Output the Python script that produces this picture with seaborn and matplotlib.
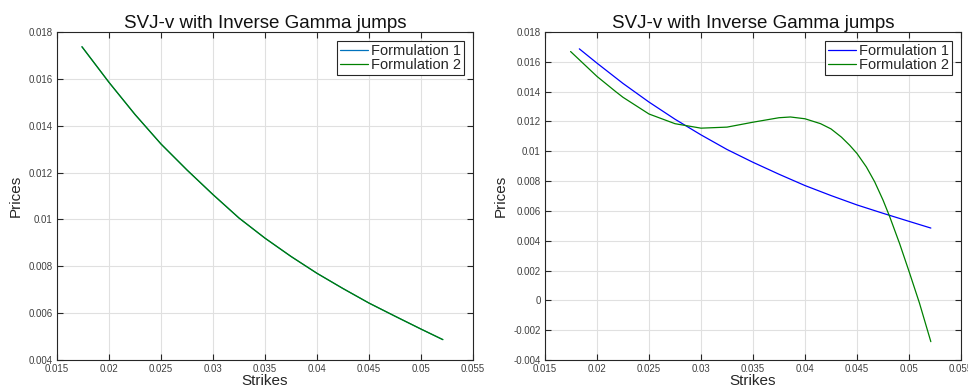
import numpy as np
import pandas as pd
import matplotlib
matplotlib.use("Agg")
import matplotlib.pyplot as plt
import seaborn as sns
from matplotlib.ticker import MultipleLocator, FormatStrFormatter

# ---- data ----
left_strikes = [0.0174, 0.0200, 0.0225, 0.0250, 0.0275, 0.0300, 0.0325, 0.0350,
                0.0375, 0.0400, 0.0425, 0.0450, 0.0475, 0.0500, 0.0521]
left_f1 = [0.01737, 0.01585, 0.01448, 0.01322, 0.01211, 0.01106, 0.01006, 0.00920,
           0.00842, 0.00770, 0.00705, 0.00643, 0.00587, 0.00532, 0.00487]
left_f2 = [0.01737, 0.01585, 0.01448, 0.01322, 0.01211, 0.01106, 0.01006, 0.00920,
           0.00842, 0.00770, 0.00705, 0.00643, 0.00587, 0.00532, 0.00487]

right_strikes_f1 = [0.0183, 0.0200, 0.0225, 0.0250, 0.0275, 0.0300, 0.0325, 0.0350,
                    0.0375, 0.0400, 0.0425, 0.0450, 0.0475, 0.0500, 0.0521]
right_f1 = [0.01687, 0.01591, 0.01455, 0.01330, 0.01215, 0.01110, 0.01012, 0.00926,
            0.00846, 0.00770, 0.00703, 0.00640, 0.00584, 0.00530, 0.00485]

right_strikes_f2 = [0.01746, 0.0200, 0.0218, 0.0225, 0.0250, 0.0275, 0.0300, 0.0325,
                    0.0350, 0.0375, 0.0386, 0.0400, 0.0415, 0.0425, 0.0435, 0.0443,
                    0.0450, 0.0459, 0.0467, 0.0475, 0.04814, 0.0491, 0.0500, 0.0510,
                    0.0521]
right_f2 = [0.01669, 0.01502, 0.01400, 0.01362, 0.01250, 0.01185, 0.01155, 0.01162,
            0.01195, 0.01225, 0.01230, 0.01218, 0.01185, 0.01150, 0.01095, 0.01040,
            0.00985, 0.00895, 0.00795, 0.00673, 0.00562, 0.00380, 0.00195, -0.00017,
            -0.00277]

title_text = "SVJ-v with Inverse Gamma jumps"
xlabel_text = "Strikes"
ylabel_text = "Prices"
labels = ["Formulation 1", "Formulation 2"]

sns.set_style("white")
plt.rcParams['font.family'] = ['Liberation Sans', 'DejaVu Sans']

fig = plt.figure(figsize=(9.68, 3.87), dpi=100)
axL = fig.add_axes([57/968, 27/387, 416/968, 328/387])
axR = fig.add_axes([545/968, 27/387, 416/968, 328/387])

dfL1 = pd.DataFrame({"x": left_strikes, "y": left_f1})
dfL2 = pd.DataFrame({"x": left_strikes, "y": left_f2})
dfR1 = pd.DataFrame({"x": right_strikes_f1, "y": right_f1})
dfR2 = pd.DataFrame({"x": right_strikes_f2, "y": right_f2})

sns.lineplot(data=dfL1, x="x", y="y", ax=axL, color="#0072BD", lw=0.9, label=labels[0])
sns.lineplot(data=dfL2, x="x", y="y", ax=axL, color="#008000", lw=0.9, label=labels[1])
sns.lineplot(data=dfR1, x="x", y="y", ax=axR, color="#0000FF", lw=0.9, label=labels[0])
sns.lineplot(data=dfR2, x="x", y="y", ax=axR, color="#008000", lw=0.9, label=labels[1])

for ax, ylo in [(axL, 0.004), (axR, -0.004)]:
    ax.set_xlim(0.015, 0.055)
    ax.set_ylim(ylo, 0.018)
    ax.xaxis.set_major_locator(MultipleLocator(0.005))
    ax.yaxis.set_major_locator(MultipleLocator(0.002))
    ax.xaxis.set_major_formatter(FormatStrFormatter('%g'))
    ax.yaxis.set_major_formatter(FormatStrFormatter('%g'))
    ax.grid(True, color="#e0e0e0", lw=0.8)
    ax.set_axisbelow(True)
    for s in ax.spines.values():
        s.set_color("#262626")
        s.set_linewidth(0.8)
        s.set_visible(True)
    ax.tick_params(direction="in", length=4, width=0.8, colors="#262626",
                   labelsize=7, labelcolor="#404040", top=True, right=True,
                   bottom=True, left=True, pad=3)
    ax.set_title(title_text, fontsize=13.5, color="#111111", pad=3)
    ax.set_xlabel(xlabel_text, fontsize=11, color="#262626", labelpad=0)
    ax.set_ylabel(ylabel_text, fontsize=11, color="#262626", labelpad=4)
    leg = ax.legend(loc="upper right", fontsize=10.5, frameon=True, fancybox=False,
                    edgecolor="#262626", framealpha=1, borderpad=0.2,
                    labelspacing=0.05, handlelength=1.9, handletextpad=0.25,
                    borderaxespad=0.6)
    leg.get_frame().set_linewidth(0.8)

fig.savefig("out.png", dpi=100)
